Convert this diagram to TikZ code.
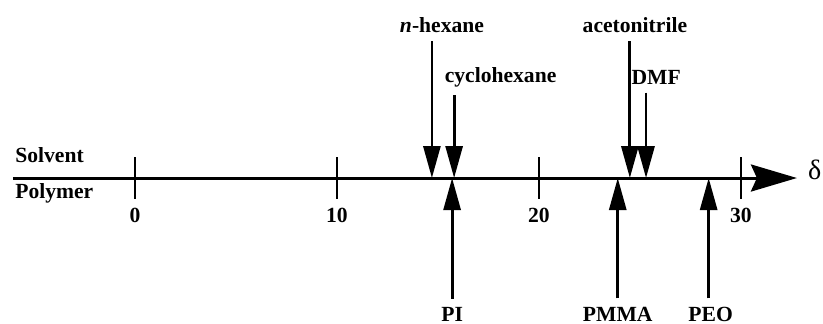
\documentclass[tikz,border=0pt]{standalone}
\usepackage{fontspec}
\setmainfont{Liberation Serif}
\usetikzlibrary{arrows.meta}
\tikzset{
  lab/.style={font=\bfseries\fontsize{10.8}{12}\selectfont,inner sep=1pt},
  pt/.style={line width=1.4pt,shorten <=3pt,-{Triangle[length=16pt,width=8.5pt]}},
  tck/.style={line width=1.2pt}
}
\begin{document}
\begin{tikzpicture}[x=10.1pt,y=0.5pt]
\useasboundingbox (-6.68,-145) rectangle (34.06,178);
% axis
\coordinate (start) at (-6.04,0);
\coordinate (end) at (32.77,0);
\draw[line width=1.5pt,-{Stealth[length=23pt,width=13.5pt,inset=3pt]}] (start) -- (end);
\node[font=\fontsize{14}{16}\selectfont,inner sep=0pt] (delta) at (33.65,8) {δ};
\node[lab,anchor=west] (solvent) at (-6.04,23) {Solvent};
\node[lab,anchor=west] (polymer) at (-6.04,-15) {Polymer};
% ticks
\foreach \v in {0,10,20,30} {
  \draw[tck] (\v,21) -- (\v,-21);
  \node[lab] (t\v) at (\v,-37) {\v};
}
% solvents
\coordinate (hexane) at (14.7,0);
\coordinate (cyclo) at (15.8,0);
\coordinate (aceto) at (24.5,0);
\coordinate (dmf) at (25.3,0);
\node[lab] (hexanel) at (15.2,153) {\textit{n}-hexane};
\node[lab] (cyclol) at (18.1,101) {cyclohexane};
\node[lab] (acetol) at (24.75,153) {acetonitrile};
\node[lab] (dmfl) at (25.8,101) {DMF};
\draw[pt] (hexanel.south -| hexane) -- (hexane);
\draw[pt] (cyclol.south -| cyclo) -- (cyclo);
\draw[pt] (acetol.south -| aceto) -- (aceto);
\draw[pt] (dmfl.south -| dmf) -- (dmf);
% polymers
\coordinate (pi) at (15.7,0);
\coordinate (pmma) at (23.9,0);
\coordinate (peo) at (28.4,0);
\node[lab] (pil) at (15.7,-136) {PI};
\node[lab] (pmmal) at (23.9,-136) {PMMA};
\node[lab] (peol) at (28.5,-136) {PEO};
\draw[pt] (pil.north -| pi) -- (pi);
\draw[pt] (pmmal.north -| pmma) -- (pmma);
\draw[pt] (peol.north -| peo) -- (peo);
\end{tikzpicture}
\end{document}
